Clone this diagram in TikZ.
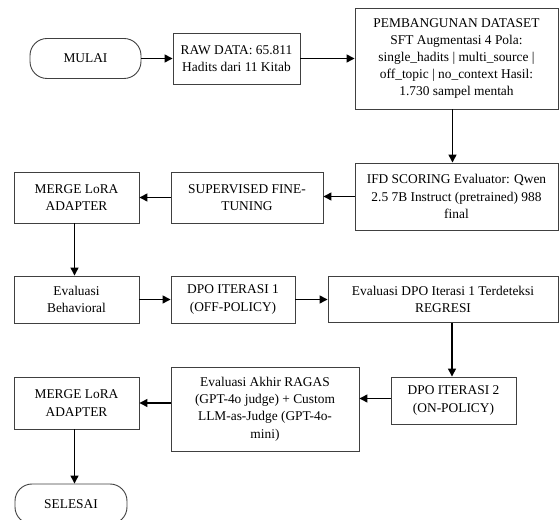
\documentclass[tikz,border=0pt]{standalone}
\usepackage{fontspec}
\setmainfont{Liberation Serif}
\usetikzlibrary{arrows.meta, positioning}

\begin{document}
\begin{tikzpicture}[
  x=1pt, y=1pt,
  box/.style={draw=black!75, line width=0.9pt, fill=white, align=center,
    inner sep=2pt, font=\fontsize{13.4}{17.2}\selectfont},
  term/.style={box, rounded corners=17pt},
  arr/.style={-{Triangle[length=8pt,width=8pt]}, line width=1.3pt, black},
]
\useasboundingbox (0,0) rectangle (559,519);

% Top row
\node[term, minimum width=111pt, minimum height=40pt] (mulai) at (85.5,460.5) {MULAI};
\node[box, minimum width=127pt, minimum height=51pt] (raw) at (236.5,460.5) {RAW DATA: 65.811\\Hadits dari 11 Kitab};
\node[box, minimum width=203pt, minimum height=101pt] (pemb) at (456.5,460.5)
  {PEMBANGUNAN DATASET\\SFT Augmentasi 4 Pola:\\single\_hadits | multi\_source |\\off\_topic | no\_context Hasil:\\1.730 sampel mentah};

% Second row
\node[box, minimum width=203pt, minimum height=67pt] (ifd) at (456.5,322.5)
  {IFD SCORING Evaluator: Qwen\\2.5 7B Instruct (pretrained) 988\\final};
\node[box, minimum width=152pt, minimum height=51pt] (sft) at (247,321.5) {SUPERVISED FINE-\\TUNING};
\node[box, minimum width=125pt, minimum height=51pt] (merge1) at (76.5,321.5) {MERGE LoRA\\ADAPTER};

% Third row
\node[box, minimum width=125pt, minimum height=47pt] (evb) at (76.5,219.5) {Evaluasi\\Behavioral};
\node[box, minimum width=124pt, minimum height=47pt] (dpo1) at (233,219.5) {DPO ITERASI 1\\(OFF-POLICY)};
\node[box, minimum width=230pt, minimum height=46pt] (evdpo) at (443,219.5) {Evaluasi DPO Iterasi 1 Terdeteksi\\REGRESI};

% Fourth row
\node[box, minimum width=125pt, minimum height=47pt] (dpo2) at (453.5,118.5) {DPO ITERASI 2\\(ON-POLICY)};
\node[box, minimum width=188pt, minimum height=84pt] (akhir) at (265,110)
  {Evaluasi Akhir RAGAS\\(GPT-4o judge) + Custom\\LLM-as-Judge (GPT-4o-\\mini)};
\node[box, minimum width=125pt, minimum height=52pt] (merge2) at (76.5,116) {MERGE LoRA\\ADAPTER};

% End
\node[term, minimum width=112pt, minimum height=40pt] (selesai) at (71,15) {SELESAI};

% Arrows
\draw[arr] (mulai.east) -- (raw.west);
\draw[arr] (raw.east) -- (pemb.west);
\draw[arr] ([xshift=-4pt]pemb.south) -- ([xshift=-4pt]ifd.north);
\draw[arr] (ifd.west) -- (ifd.west -| sft.east);
\draw[arr] (sft.west) -- (merge1.east);
\draw[arr] ([xshift=-2pt]merge1.south) -- ([xshift=-2pt]evb.north);
\draw[arr] (evb.east) -- (dpo1.west);
\draw[arr] (dpo1.east) -- (dpo1.east -| evdpo.west);
\draw[arr] ([xshift=9pt]evdpo.south) -- ([xshift=-1.5pt]dpo2.north);
\draw[arr] ([yshift=2pt]dpo2.west) -- ([yshift=2pt]dpo2.west -| akhir.east);
\draw[arr] (akhir.west |- merge2.east) -- (merge2.east);
\draw[arr] ([xshift=-2pt]merge2.south) -- ([xshift=-2pt]merge2.south |- selesai.north);

\end{tikzpicture}
\end{document}
